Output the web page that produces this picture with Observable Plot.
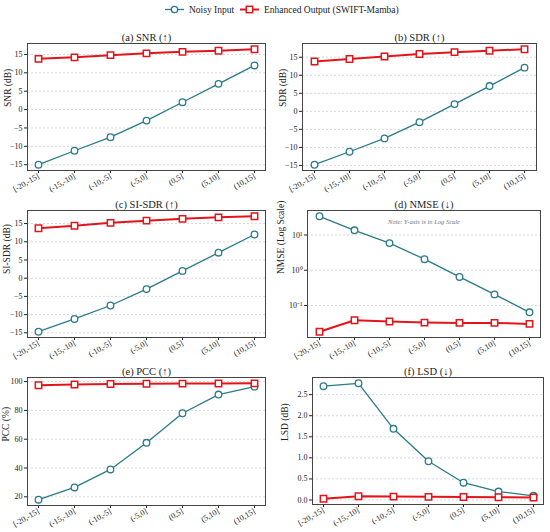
<!DOCTYPE html>
<html><head><meta charset="utf-8">
<script src="https://cdn.jsdelivr.net/npm/d3@7"></script>
<script src="https://cdn.jsdelivr.net/npm/@observablehq/plot@0.6"></script>
<style>
body{margin:0;background:#fff;font-family:"Liberation Serif",serif;}
#root{position:relative;width:550px;height:532px;overflow:hidden;}
.panel{position:absolute;}
#legend{position:absolute;left:0;top:0;width:550px;height:20px;}
</style></head><body><div id="root"><svg id="legend" width="550" height="20"></svg></div>
<script>
const categories = ["[-20,-15]", "(-15,-10]", "(-10,-5]", "(-5,0]", "(0,5]", "(5,10]", "(10,15]"];
const seriesNames = ["Noisy Input", "Enhanced Output (SWIFT-Mamba)"];

const snrNoisy = [-15.0, -11.2, -7.5, -3.0, 2.0, 7.0, 12.0];
const snrEnh = [13.8, 14.2, 14.8, 15.3, 15.7, 16.0, 16.4];
const sdrNoisy = [-14.8, -11.2, -7.5, -3.0, 2.0, 7.0, 12.1];
const sdrEnh = [13.8, 14.5, 15.2, 15.9, 16.4, 16.8, 17.2];
const sisdrNoisy = [-14.7, -11.2, -7.5, -3.0, 2.0, 7.0, 12.0];
const sisdrEnh = [13.7, 14.4, 15.2, 15.8, 16.3, 16.7, 17.0];
const nmseNoisy = [34, 13.6, 5.9, 2.06, 0.645, 0.206, 0.064];
const nmseEnh = [0.018, 0.038, 0.035, 0.0327, 0.032, 0.032, 0.030];
const pccNoisy = [18.0, 26.5, 39.0, 57.5, 78.0, 91.0, 96.5];
const pccEnh = [97.5, 98.0, 98.3, 98.5, 98.6, 98.7, 98.8];
const lsdNoisy = [2.70, 2.77, 1.69, 0.92, 0.41, 0.20, 0.10];
const lsdEnh = [0.03, 0.09, 0.08, 0.075, 0.07, 0.065, 0.06];

const linTicks = [-15, -10, -5, 0, 5, 10, 15];
const nmseTicks = [0.1, 1, 10];
const pccTicks = [20, 40, 60, 80, 100];
const lsdTicks = [0, 0.5, 1.0, 1.5, 2.0, 2.5];

const TEAL = "#2a7a8a";
const RED = "#e3151b";
const FONT = "Liberation Serif";

function padDomain(vals, log) {
  const t = log ? vals.map(Math.log10) : vals;
  const lo = Math.min(...t), hi = Math.max(...t), m = (hi - lo) * 0.05;
  const d = [lo - m, hi + m];
  return log ? d.map(v => Math.pow(10, v)) : d;
}

function panel(o) {
  const [x0, x1, y0, y1] = o.frame;
  const mL = x0 - o.colLeft, mR = 9, mT = 24, mB = 34;
  const noisy = categories.map((c, i) => ({c, v: o.noisy[i]}));
  const enh = categories.map((c, i) => ({c, v: o.enh[i]}));
  const marks = [
    Plot.gridY(o.ticks, {stroke: "#c8c8c8", strokeOpacity: 1, strokeDasharray: "2,2", strokeWidth: 0.7}),
    Plot.axisX({tickRotate: -30, tickSize: 3, tickPadding: 2, label: null, fontSize: 8}),
    Plot.axisY(o.ticks, {tickSize: 3, tickPadding: 2, label: null, tickFormat: o.tickFormat, fontSize: 8}),
    Plot.line(noisy, {x: "c", y: "v", stroke: TEAL, strokeWidth: 1.3}),
    Plot.dot(noisy, {x: "c", y: "v", stroke: TEAL, fill: "white", r: 3.3, strokeWidth: 1.3}),
    Plot.line(enh, {x: "c", y: "v", stroke: RED, strokeWidth: 2}),
    Plot.dot(enh, {x: "c", y: "v", symbol: "square", stroke: RED, fill: "white", r: 3.6, strokeWidth: 1.5}),
    Plot.frame({stroke: "#444", strokeWidth: 1}),
    Plot.text([o.title], {text: d => d, frameAnchor: "top", lineAnchor: "bottom", dy: -3, fontSize: 10.5, fill: "#222"}),
    Plot.text([o.ylabel], {text: d => d, frameAnchor: "left", rotate: -90, dx: o.labelDx, fontSize: 9.5, fill: "#222"})
  ];
  if (o.note) marks.push(Plot.text([o.note], {text: d => d, frameAnchor: "top", dy: 9, fontSize: 6.5, fontStyle: "italic", fill: "#777"}));
  const p = Plot.plot({
    width: x1 - x0 + mL + mR, height: y1 - y0 + mT + mB,
    marginLeft: mL, marginRight: mR, marginTop: mT, marginBottom: mB,
    style: {fontFamily: FONT, fontSize: "8px", background: "transparent", overflow: "visible", color: "#222"},
    x: {type: "point", domain: categories, padding: 0.3},
    y: {type: o.log ? "log" : "linear", domain: padDomain([...o.noisy, ...o.enh], o.log)},
    marks
  });
  p.classList.add("panel");
  p.style.left = o.colLeft + "px";
  p.style.top = (y0 - mT) + "px";
  document.getElementById("root").appendChild(p);
}

const sup = {10: "10\u00B9", 1: "10\u2070", 0.1: "10\u207B\u00B9"};

panel({title: "(a) SNR (\u2191)", ylabel: "SNR (dB)", noisy: snrNoisy, enh: snrEnh, ticks: linTicks, frame: [27, 265, 43, 170], colLeft: 0, labelDx: -20});
panel({title: "(b) SDR (\u2191)", ylabel: "SDR (dB)", noisy: sdrNoisy, enh: sdrEnh, ticks: linTicks, frame: [302, 536, 43, 170], colLeft: 275, labelDx: -20});
panel({title: "(c) SI-SDR (\u2191)", ylabel: "SI-SDR (dB)", noisy: sisdrNoisy, enh: sisdrEnh, ticks: linTicks, frame: [27, 265, 210, 337], colLeft: 0, labelDx: -21});
panel({title: "(d) NMSE (\u2193)", ylabel: "NMSE (Log Scale)", noisy: nmseNoisy, enh: nmseEnh, ticks: nmseTicks, log: true, tickFormat: d => sup[d], frame: [307, 540, 210, 337], colLeft: 275, labelDx: -27, note: "Note: Y-axis is in Log Scale"});
panel({title: "(e) PCC (\u2191)", ylabel: "PCC (%)", noisy: pccNoisy, enh: pccEnh, ticks: pccTicks, frame: [27, 265, 377, 505], colLeft: 0, labelDx: -22});
panel({title: "(f) LSD (\u2193)", ylabel: "LSD (dB)", noisy: lsdNoisy, enh: lsdEnh, ticks: lsdTicks, tickFormat: d3.format(".1f"), frame: [312, 543, 377, 504], colLeft: 275, labelDx: -28});

// legend
const lg = d3.select("#legend");
const items = [
  {name: seriesNames[0], color: TEAL, sym: "circle", x: 165, w: 1.3},
  {name: seriesNames[1], color: RED, sym: "square", x: 240, w: 2}
];
for (const it of items) {
  const g = lg.append("g").attr("transform", `translate(${it.x},9.5)`);
  g.append("line").attr("x1", 0).attr("x2", 19).attr("stroke", it.color).attr("stroke-width", it.w);
  if (it.sym === "circle") g.append("circle").attr("cx", 9.5).attr("r", 3.2).attr("fill", "white").attr("stroke", it.color).attr("stroke-width", 1.3);
  else g.append("rect").attr("x", 6.3).attr("y", -3.2).attr("width", 6.4).attr("height", 6.4).attr("fill", "white").attr("stroke", it.color).attr("stroke-width", 1.5);
  g.append("text").attr("x", 24).attr("dy", "0.35em").attr("font-family", FONT).attr("font-size", 9.5).attr("fill", "#222").text(it.name);
}
</script></body></html>
